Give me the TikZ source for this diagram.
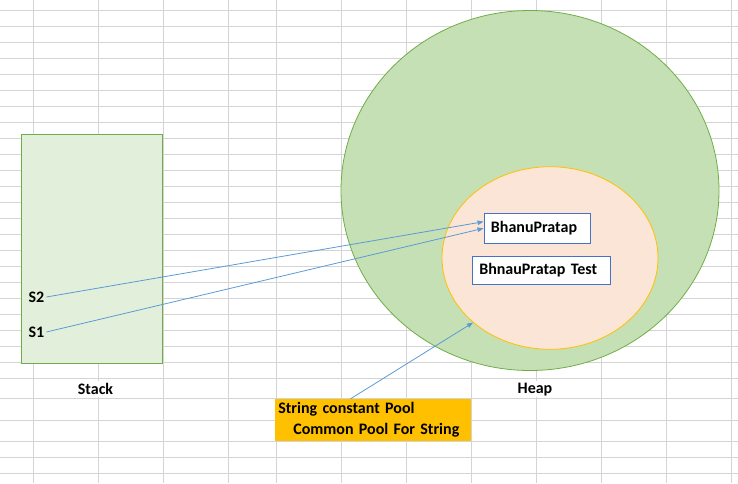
\documentclass[tikz,border=0pt]{standalone}
\usepackage{fontspec}
\setmainfont{Carlito}
\usetikzlibrary{
  calc, % Für Koordinatenberechnungen
  shapes.geometric, % Für die Ellipsen
  arrows.meta % Für Pfeilspitzen
}
% Farben
\definecolor{gitter}{HTML}{D4D4D4}
\definecolor{stackgruen}{HTML}{E2EFDA}
\definecolor{heapgruen}{HTML}{C5E0B4}
\definecolor{randgruen}{HTML}{70AD47}
\definecolor{poolrosa}{HTML}{FBE5D6}
\definecolor{poolgelb}{HTML}{FFC000}
\definecolor{rahmen}{HTML}{4472C4}
\definecolor{pfeil}{HTML}{5B9BD5}

\begin{document}
\begin{tikzpicture}[
      x=1pt, y=-1pt, % Pixelkoordinaten, y nach unten
      font=\fontsize{16}{21}\selectfont\bfseries, % Schrift wie Calibri fett
      >={Triangle[length=6pt, width=4.5pt]}, % Default arrow tip
      zeiger/.style={draw=pfeil, line width=0.8pt, ->}, % Style for references
      kasten/.style={draw=rahmen, fill=white, line width=0.8pt, inner xsep=7pt, align=left}, % Style for string objects
      zelle/.style={fill=white, minimum height=16pt, inner ysep=0pt, inner xsep=3pt}, % Beschriftung in Zelle
    ]
    \useasboundingbox (0,0) rectangle (738,483);
    % Gitter
    \foreach \x in {33,98,163,228,276,341,406,471,536,601,666,731}
      \draw[gitter, line width=0.9pt] (\x,0) -- (\x,483);
    \foreach \k in {0,...,23}
      \draw[gitter, line width=0.9pt] (0,{10.7+16*\k}) -- (738,{10.7+16*\k});
    \foreach \y in {398.7,420,441,457,473}
      \draw[gitter, line width=0.9pt] (0,\y) -- (738,\y);
    % Stack
    \node[draw=randgruen, fill=stackgruen, line width=0.8pt, inner sep=0pt,
      minimum width=140.7pt, minimum height=228.7pt] (stack) at (91.65,248.65) {};
    \node[anchor=west, inner sep=2pt] (s2) at (26.3,297) {S2};
    \node[anchor=west, inner sep=2pt] (s1) at (26.3,332) {S1};
    \node[zelle] (stacklabel) at (95.5,389.2) {Stack};
    % Heap
    \node[ellipse, draw=randgruen, fill=heapgruen, line width=0.8pt, inner sep=0pt,
      minimum width=378pt, minimum height=360pt] (heap) at (530,190.5) {};
    \node[ellipse, draw=poolgelb, fill=poolrosa, line width=0.8pt, inner sep=0pt,
      minimum width=216pt, minimum height=182.6pt] (pool) at (550,258) {};
    \node[kasten, text width=92.7pt, minimum height=30pt] (bp) at (537.3,228.3) {BhanuPratap};
    \node[kasten, text width=124.4pt, minimum height=27.6pt] (bpt) at (541.5,270.5) {BhnauPratap Test};
    \node[zelle] (heaplabel) at (535,389.2) {Heap};
    % String constant Pool
    \node[fill=poolgelb, inner xsep=3.3pt, text width=189.1pt, align=left,
      minimum height=41.7pt] (poolinfo) at (372.85,419.85)
      {String constant Pool\\\hspace*{15pt}Common Pool For String};
    % Referenzen
    \draw[zeiger] (s2.east) -- ($(bp.west)+(0,-6.6)$);
    \draw[zeiger] (s1.east) -- (bp.west);
    \draw[zeiger] ($(poolinfo.north west)+(75.7,0)$) -- (pool.220);
  \end{tikzpicture}
\end{document}
